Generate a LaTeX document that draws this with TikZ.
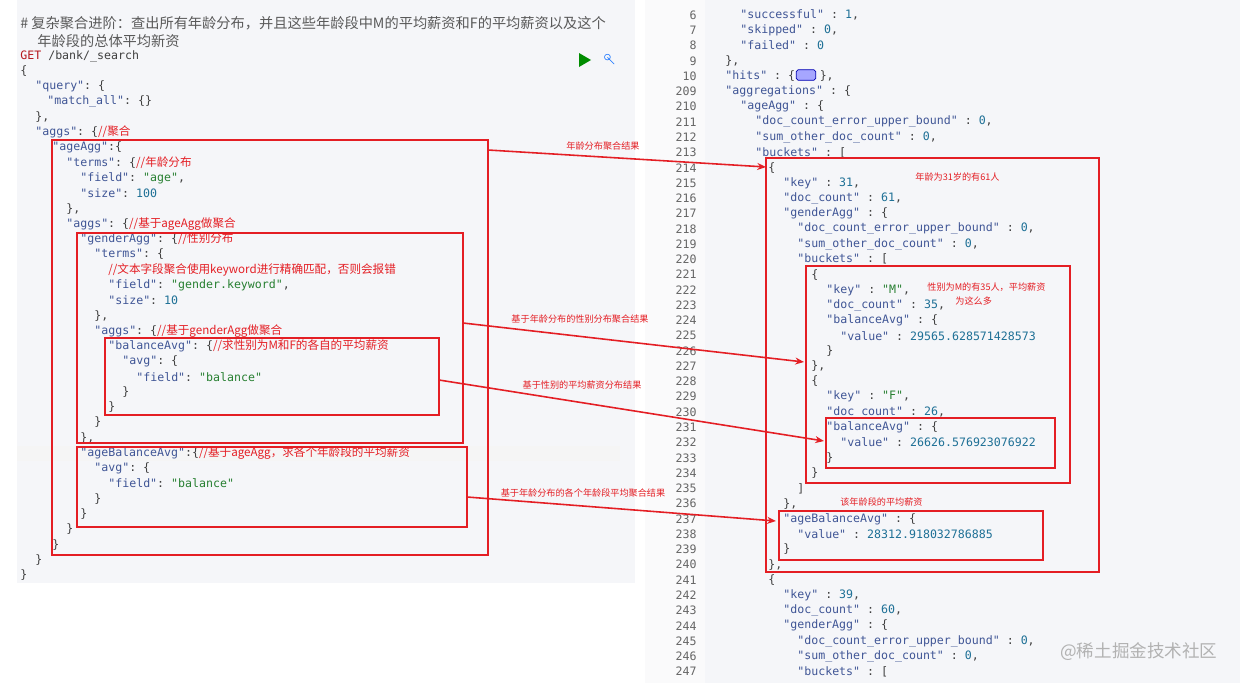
\documentclass[tikz,border=0pt]{standalone}
\usepackage{fontspec}
\setmonofont{DejaVu Sans Mono}
\newfontfamily\cjk{Noto Sans CJK SC}
\usetikzlibrary{arrows.meta,positioning}
\definecolor{markred}{RGB}{228,30,36}
\definecolor{keyblue}{RGB}{64,86,150}
\definecolor{strgreen}{RGB}{40,128,50}
\definecolor{numteal}{RGB}{30,112,150}
\definecolor{editorbg}{RGB}{245,246,249}
\definecolor{gutterbg}{RGB}{250,250,251}
\newcommand\keyc[1]{\textcolor{keyblue}{#1}}
\newcommand\strc[1]{\textcolor{strgreen}{#1}}
\newcommand\numc[1]{\textcolor{numteal}{#1}}
\newcommand\cmtc[1]{\textcolor{markred}{\cjk #1}}
% code lines: name, x, line index, text
\newcommand\lline[4]{\node[code] (#1) at (#2,{56+15.27*#3}) {#4};}
\newcommand\rline[4]{\node[code] (#1) at (#2,{15+15.27*#3}) {#4};}
\newcommand\rnum[3]{\node[lnum] (#1) at (697,{15+15.27*#2}) {#3};}

\begin{document}
\begin{tikzpicture}[x=0.02cm,y=-0.02cm,
    code/.style={anchor=west, inner sep=0pt, font=\ttfamily\fontsize{6.6}{7}\selectfont, text=black!75},
    lnum/.style={anchor=east, inner sep=0pt, font=\ttfamily\fontsize{6.6}{7}\selectfont, text=black!60},
    note/.style={inner sep=0pt, font=\cjk\fontsize{5.2}{6}\selectfont, text=markred},
    markbox/.style={draw=markred, line width=0.8pt},
    markarrow/.style={-{Stealth[length=5pt,width=4pt]}, draw=markred, line width=0.9pt}
]
    \useasboundingbox (0,0) rectangle (1240,683);
    % panels
    \fill[editorbg] (17,0) rectangle (635,583);
    \fill[black!4] (17,446) rectangle (620,461);
    \fill[gutterbg] (645,0) rectangle (705,683);
    \fill[editorbg] (705,0) rectangle (1240,683);

    % left: query
    \node[code, font=\cjk\fontsize{8.1}{9}\selectfont, text=black!65] (title1) at (20,23) {\# 复杂聚合进阶：查出所有年龄分布，并且这些年龄段中M的平均薪资和F的平均薪资以及这个};
    \node[code, font=\cjk\fontsize{8.1}{9}\selectfont, text=black!65] (title2) at (37,41) {年龄段的总体平均新资};
    \lline{q0}{20}{0}{\textcolor{markred!80!black}{GET} /bank/\_search}
    \lline{q1}{20}{1}{\{}
    \lline{q2}{35}{2}{\keyc{"query"}: \{}
    \lline{q3}{47}{3}{\keyc{"match\_all"}: \{\}}
    \lline{q4}{35}{4}{\},}
    \lline{q5}{35}{5}{\keyc{"aggs"}: \{\cmtc{//聚合}}
    \lline{q6}{52}{6}{\keyc{"ageAgg"}:\{}
    \lline{q7}{66}{7}{\keyc{"terms"}: \{\cmtc{//年龄分布}}
    \lline{q8}{80}{8}{\keyc{"field"}: \strc{"age"},}
    \lline{q9}{80}{9}{\keyc{"size"}: \numc{100}}
    \lline{q10}{66}{10}{\},}
    \lline{q11}{66}{11}{\keyc{"aggs"}: \{\cmtc{//基于ageAgg做聚合}}
    \lline{q12}{80}{12}{\keyc{"genderAgg"}: \{\cmtc{//性别分布}}
    \lline{q13}{94}{13}{\keyc{"terms"}: \{}
    \lline{q14}{108}{14}{\cmtc{//文本字段聚合使用keyword进行精确匹配，否则会报错}}
    \lline{q15}{108}{15}{\keyc{"field"}: \strc{"gender.keyword"},}
    \lline{q16}{108}{16}{\keyc{"size"}: \numc{10}}
    \lline{q17}{94}{17}{\},}
    \lline{q18}{94}{18}{\keyc{"aggs"}: \{\cmtc{//基于genderAgg做聚合}}
    \lline{q19}{108}{19}{\keyc{"balanceAvg"}: \{\cmtc{//求性别为M和F的各自的平均薪资}}
    \lline{q20}{122}{20}{\keyc{"avg"}: \{}
    \lline{q21}{136}{21}{\keyc{"field"}: \strc{"balance"}}
    \lline{q22}{122}{22}{\}}
    \lline{q23}{108}{23}{\}}
    \lline{q24}{94}{24}{\}}
    \lline{q25}{80}{25}{\},}
    \lline{q26}{80}{26}{\keyc{"ageBalanceAvg"}:\{\cmtc{//基于ageAgg，求各个年龄段的平均薪资}}
    \lline{q27}{94}{27}{\keyc{"avg"}: \{}
    \lline{q28}{108}{28}{\keyc{"field"}: \strc{"balance"}}
    \lline{q29}{94}{29}{\}}
    \lline{q30}{80}{30}{\}}
    \lline{q31}{66}{31}{\}}
    \lline{q32}{52}{32}{\}}
    \lline{q33}{35}{33}{\}}
    \lline{q34}{20}{34}{\}}
    \fill[green!55!black] (579,53) -- (579,67) -- (591,60) -- cycle;
    \node[inner sep=0pt, font=\fontsize{9}{9}\selectfont, text=blue!60!cyan, rotate=-45] (tool) at (610,60) {$\circ\!\!-$};

    % right: response
    \rnum{n6}{0}{6}   \rline{r6}{740}{0}{\keyc{"successful"} : \numc{1},}
    \rnum{n7}{1}{7}   \rline{r7}{740}{1}{\keyc{"skipped"} : \numc{0},}
    \rnum{n8}{2}{8}   \rline{r8}{740}{2}{\keyc{"failed"} : \numc{0}}
    \rnum{n9}{3}{9}   \rline{r9}{725}{3}{\},}
    \rnum{n10}{4}{10} \rline{r10}{725}{4}{\keyc{"hits"} : \{\hspace{14pt}\},}
    \node[draw=blue!70!black, fill=blue!35, rounded corners=1pt, minimum width=11pt, minimum height=6pt, inner sep=0pt] (hits) at (806,75) {};
    \rnum{n209}{5}{209} \rline{r209}{725}{5}{\keyc{"aggregations"} : \{}
    \rnum{n210}{6}{210} \rline{r210}{740}{6}{\keyc{"ageAgg"} : \{}
    \rnum{n211}{7}{211} \rline{r211}{755}{7}{\keyc{"doc\_count\_error\_upper\_bound"} : \numc{0},}
    \rnum{n212}{8}{212} \rline{r212}{755}{8}{\keyc{"sum\_other\_doc\_count"} : \numc{0},}
    \rnum{n213}{9}{213} \rline{r213}{755}{9}{\keyc{"buckets"} : [}
    \rnum{n214}{10}{214} \rline{r214}{768}{10}{\{}
    \rnum{n215}{11}{215} \rline{r215}{783}{11}{\keyc{"key"} : \numc{31},}
    \rnum{n216}{12}{216} \rline{r216}{783}{12}{\keyc{"doc\_count"} : \numc{61},}
    \rnum{n217}{13}{217} \rline{r217}{783}{13}{\keyc{"genderAgg"} : \{}
    \rnum{n218}{14}{218} \rline{r218}{797}{14}{\keyc{"doc\_count\_error\_upper\_bound"} : \numc{0},}
    \rnum{n219}{15}{219} \rline{r219}{797}{15}{\keyc{"sum\_other\_doc\_count"} : \numc{0},}
    \rnum{n220}{16}{220} \rline{r220}{797}{16}{\keyc{"buckets"} : [}
    \rnum{n221}{17}{221} \rline{r221}{811}{17}{\{}
    \rnum{n222}{18}{222} \rline{r222}{826}{18}{\keyc{"key"} : \strc{"M"},}
    \rnum{n223}{19}{223} \rline{r223}{826}{19}{\keyc{"doc\_count"} : \numc{35},}
    \rnum{n224}{20}{224} \rline{r224}{826}{20}{\keyc{"balanceAvg"} : \{}
    \rnum{n225}{21}{225} \rline{r225}{840}{21}{\keyc{"value"} : \numc{29565.628571428573}}
    \rnum{n226}{22}{226} \rline{r226}{826}{22}{\}}
    \rnum{n227}{23}{227} \rline{r227}{811}{23}{\},}
    \rnum{n228}{24}{228} \rline{r228}{811}{24}{\{}
    \rnum{n229}{25}{229} \rline{r229}{826}{25}{\keyc{"key"} : \strc{"F"},}
    \rnum{n230}{26}{230} \rline{r230}{826}{26}{\keyc{"doc\_count"} : \numc{26},}
    \rnum{n231}{27}{231} \rline{r231}{826}{27}{\keyc{"balanceAvg"} : \{}
    \rnum{n232}{28}{232} \rline{r232}{840}{28}{\keyc{"value"} : \numc{26626.576923076922}}
    \rnum{n233}{29}{233} \rline{r233}{826}{29}{\}}
    \rnum{n234}{30}{234} \rline{r234}{811}{30}{\}}
    \rnum{n235}{31}{235} \rline{r235}{797}{31}{]}
    \rnum{n236}{32}{236} \rline{r236}{783}{32}{\},}
    \rnum{n237}{33}{237} \rline{r237}{783}{33}{\keyc{"ageBalanceAvg"} : \{}
    \rnum{n238}{34}{238} \rline{r238}{797}{34}{\keyc{"value"} : \numc{28312.918032786885}}
    \rnum{n239}{35}{239} \rline{r239}{783}{35}{\}}
    \rnum{n240}{36}{240} \rline{r240}{768}{36}{\},}
    \rnum{n241}{37}{241} \rline{r241}{768}{37}{\{}
    \rnum{n242}{38}{242} \rline{r242}{783}{38}{\keyc{"key"} : \numc{39},}
    \rnum{n243}{39}{243} \rline{r243}{783}{39}{\keyc{"doc\_count"} : \numc{60},}
    \rnum{n244}{40}{244} \rline{r244}{783}{40}{\keyc{"genderAgg"} : \{}
    \rnum{n245}{41}{245} \rline{r245}{797}{41}{\keyc{"doc\_count\_error\_upper\_bound"} : \numc{0},}
    \rnum{n246}{42}{246} \rline{r246}{797}{42}{\keyc{"sum\_other\_doc\_count"} : \numc{0},}
    \rnum{n247}{43}{247} \rline{r247}{797}{43}{\keyc{"buckets"} : [}

    % red boxes
    \draw[markbox] (52,140) rectangle (488,555);
    \draw[markbox] (77,233) rectangle (463,443);
    \draw[markbox] (105,338) rectangle (439,415);
    \draw[markbox] (77,447) rectangle (467,527);
    \draw[markbox] (766,158) rectangle (1099,572);
    \draw[markbox] (806,266) rectangle (1070,483);
    \draw[markbox] (826,418) rectangle (1055,468);
    \draw[markbox] (779,511) rectangle (1043,560);

    % arrows
    \coordinate (fromAge) at (488,150);    \coordinate (toAge) at (766,167);
    \coordinate (fromGender) at (463,323); \coordinate (toGender) at (804,362);
    \coordinate (fromBal) at (439,380);    \coordinate (toBal) at (824,441);
    \coordinate (fromAgeBal) at (467,497); \coordinate (toAgeBal) at (776,521);
    \draw[markarrow] (fromAge) -- (toAge);
    \draw[markarrow] (fromGender) -- (toGender);
    \draw[markarrow] (fromBal) -- (toBal);
    \draw[markarrow] (fromAgeBal) -- (toAgeBal);

    % notes
    \node[note] (noteAge) at (603,146) {年龄分布聚合结果};
    \node[note] (noteGender) at (580,319) {基于年龄分布的性别分布聚合结果};
    \node[note] (noteBal) at (582,385) {基于性别的平均薪资分布结果};
    \node[note] (noteAgeBal) at (583,493) {基于年龄分布的各个年龄段平均聚合结果};
    \node[note, anchor=west] (noteKey) at (915,177) {年龄为31岁的有61人};
    \node[note, anchor=west] (noteM) at (927,287) {性别为M的有35人，平均薪资};
    \node[note, anchor=west] (noteM2) at (955,301) {为这么多};
    \node[note, anchor=west] (noteAvg) at (840,502) {该年龄段的平均薪资};
    \node[anchor=west, inner sep=0pt, font=\cjk\fontsize{10}{11}\selectfont, text=black!30] (mark) at (1060,652) {@稀土掘金技术社区};
\end{tikzpicture}
\end{document}
